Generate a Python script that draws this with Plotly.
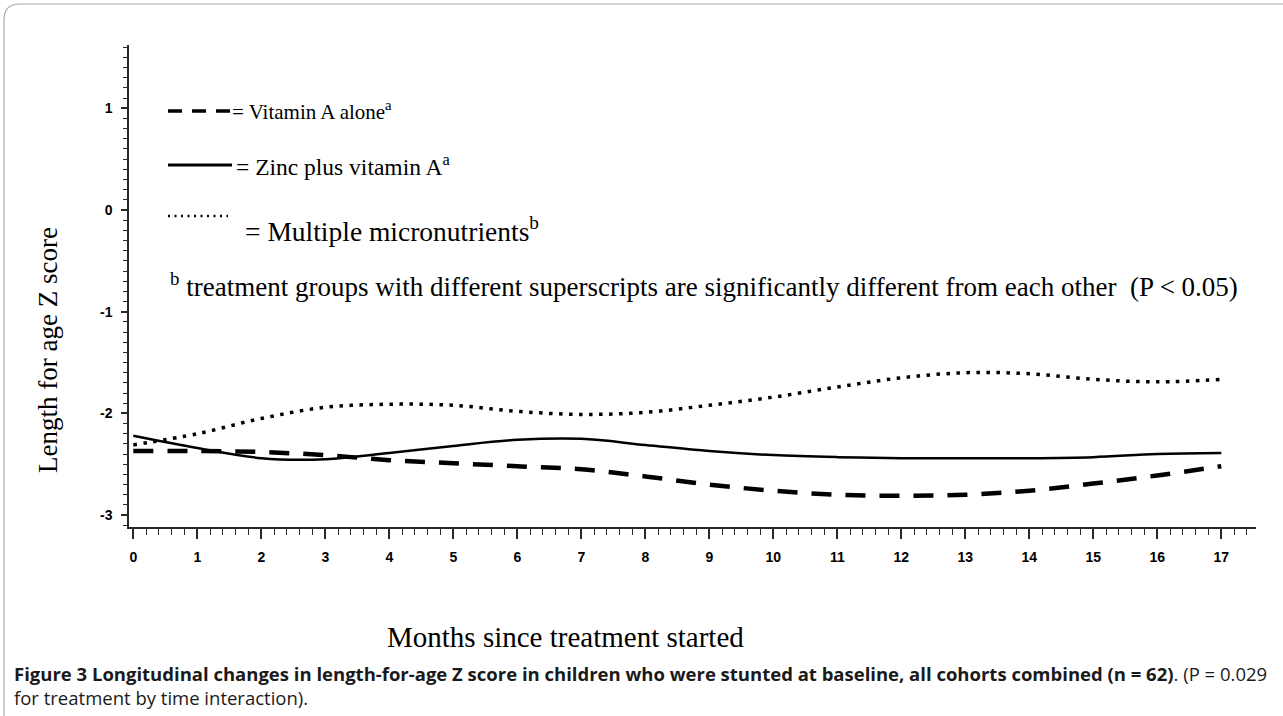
import plotly.graph_objects as go

# ---------------- data ----------------
months = list(range(18))
month_labels = [str(m) for m in months]

vitamin_a_alone = [-2.37, -2.37, -2.38, -2.41, -2.46, -2.49, -2.52, -2.55, -2.62,
                   -2.70, -2.76, -2.80, -2.81, -2.80, -2.76, -2.69, -2.61, -2.52]
zinc_plus_vit_a = [-2.22, -2.34, -2.44, -2.45, -2.39, -2.32, -2.26, -2.25, -2.31,
                   -2.37, -2.41, -2.43, -2.44, -2.44, -2.44, -2.43, -2.40, -2.39]
multiple_micro = [-2.31, -2.20, -2.05, -1.94, -1.91, -1.92, -1.98, -2.01, -1.99,
                  -1.92, -1.84, -1.74, -1.65, -1.60, -1.61, -1.665, -1.69, -1.665]

y_tick_vals = [-3, -2, -1, 0, 1]
y_tick_text = ["-3", "-2", "-1", "0", "1"]

legend_labels = ["= Vitamin A alone<sup>a</sup>",
                 "= Zinc plus vitamin A<sup>a</sup>",
                 "= Multiple micronutrients<sup>b</sup>"]
footnote = ("<sup>b</sup> treatment groups with different superscripts are "
            "significantly different from each other  (P &lt; 0.05)")
caption = ("<b>Figure 3 Longitudinal changes in length-for-age Z score in children who were "
           "stunted at baseline, all cohorts combined (n = 62)</b>. (P = 0.029<br>"
           "for treatment by time interaction).")

# ---------------- layout geometry ----------------
W, H = 1283, 716
L, R, T, B = 129, 27, 45, 189
PW, PH = W - L - R, H - T - B


def px(x):
    return (x - L) / PW


def py(y):
    return (H - B - y) / PH


SERIF = "Liberation Serif, Times New Roman, serif"
SANS = "Liberation Sans, Arial, sans-serif"
CAP = "Open Sans, Noto Sans, Liberation Sans, sans-serif"

fig = go.Figure()
fig.add_trace(go.Scatter(x=months, y=vitamin_a_alone, mode="lines",
                         line=dict(color="black", width=4.5, dash="20px,14px", shape="spline"),
                         showlegend=False))
fig.add_trace(go.Scatter(x=months, y=zinc_plus_vit_a, mode="lines",
                         line=dict(color="black", width=2.5, shape="spline"),
                         showlegend=False))
fig.add_trace(go.Scatter(x=months, y=multiple_micro, mode="lines",
                         line=dict(color="black", width=3.5, dash="3.5px,6.5px", shape="spline"),
                         showlegend=False))

x0 = (L - 133.3) / 64.0
x1 = (W - R - 133.3) / 64.0
y1 = (210 - T) / 101.7
y0 = (210 - (H - B)) / 101.7

axis_col = "#2a2a2a"
fig.update_xaxes(range=[x0, x1], showgrid=False, zeroline=False, showline=True,
                 linecolor=axis_col, linewidth=1.5, ticks="outside", ticklen=10,
                 tickwidth=1.5, tickcolor=axis_col, tickvals=months, ticktext=month_labels,
                 tickfont=dict(family=SANS, size=14, color="black", weight="bold"),
                 ticklabelstandoff=6,
                 minor=dict(dtick=0.2, tick0=0, ticks="outside", ticklen=6,
                            tickwidth=1.3, tickcolor=axis_col))
fig.update_yaxes(range=[y0, y1], showgrid=False, zeroline=False, showline=True,
                 linecolor=axis_col, linewidth=1.5, ticks="outside", ticklen=6,
                 tickwidth=1.5, tickcolor=axis_col, tickvals=y_tick_vals, ticktext=y_tick_text,
                 tickfont=dict(family=SANS, size=14, color="black", weight="bold"),
                 ticklabelstandoff=6,
                 minor=dict(dtick=0.1, tick0=0, ticks="outside", ticklen=4,
                            tickwidth=1.3, tickcolor=axis_col))

shapes = []
# legend samples (decorative key)
shapes.append(dict(type="line", xref="paper", yref="paper", x0=px(168), x1=px(230),
                   y0=py(111), y1=py(111), line=dict(color="black", width=3.5, dash="14px,10px")))
shapes.append(dict(type="line", xref="paper", yref="paper", x0=px(168), x1=px(232),
                   y0=py(165), y1=py(165), line=dict(color="black", width=3)))
shapes.append(dict(type="line", xref="paper", yref="paper", x0=px(168), x1=px(228),
                   y0=py(216), y1=py(216), line=dict(color="black", width=2.5, dash="2px,4.5px")))
# figure frame (rounded, top/left visible)
r = 16
frame = (f"M {px(4)},{py(720)} L {px(4)},{py(4 + r)} "
         f"Q {px(4)},{py(4)} {px(4 + r)},{py(4)} L {px(1300)},{py(4)}")
shapes.append(dict(type="path", xref="paper", yref="paper", path=frame,
                   line=dict(color="#aaaaaa", width=1.2)))

annotations = []
leg_items = [(230, 111, 21), (234, 165, 23.5), (243, 229, 27.5)]
for (lx, ly, fs), txt in zip(leg_items, legend_labels):
    annotations.append(dict(text=txt, xref="paper", yref="paper", x=px(lx), y=py(ly),
                            xanchor="left", yanchor="middle", showarrow=False,
                            font=dict(family=SERIF, size=fs, color="black")))
annotations.append(dict(text=footnote, xref="paper", yref="paper", x=px(168), y=py(285),
                        xanchor="left", yanchor="middle", showarrow=False,
                        font=dict(family=SERIF, size=27, color="black")))
annotations.append(dict(text="Length for age Z score", xref="paper", yref="paper",
                        x=px(48), y=py(350), xanchor="center", yanchor="middle",
                        textangle=-90, showarrow=False,
                        font=dict(family=SERIF, size=27, color="black")))
annotations.append(dict(text="Months since treatment started", xref="paper", yref="paper",
                        x=px(565), y=py(637), xanchor="center", yanchor="middle",
                        showarrow=False, font=dict(family=SERIF, size=29, color="black")))
annotations.append(dict(text=caption, xref="paper", yref="paper", x=px(12), y=py(685),
                        xanchor="left", yanchor="middle", align="left", showarrow=False,
                        font=dict(family=CAP, size=18.5, color="#1a1a1a")))

fig.update_layout(width=W, height=H, margin=dict(l=L, r=R, t=T, b=B),
                  paper_bgcolor="white", plot_bgcolor="white",
                  shapes=shapes, annotations=annotations, showlegend=False)

fig.write_html("out.html", config={"displayModeBar": False},
               post_script="document.body.style.margin='0';")
